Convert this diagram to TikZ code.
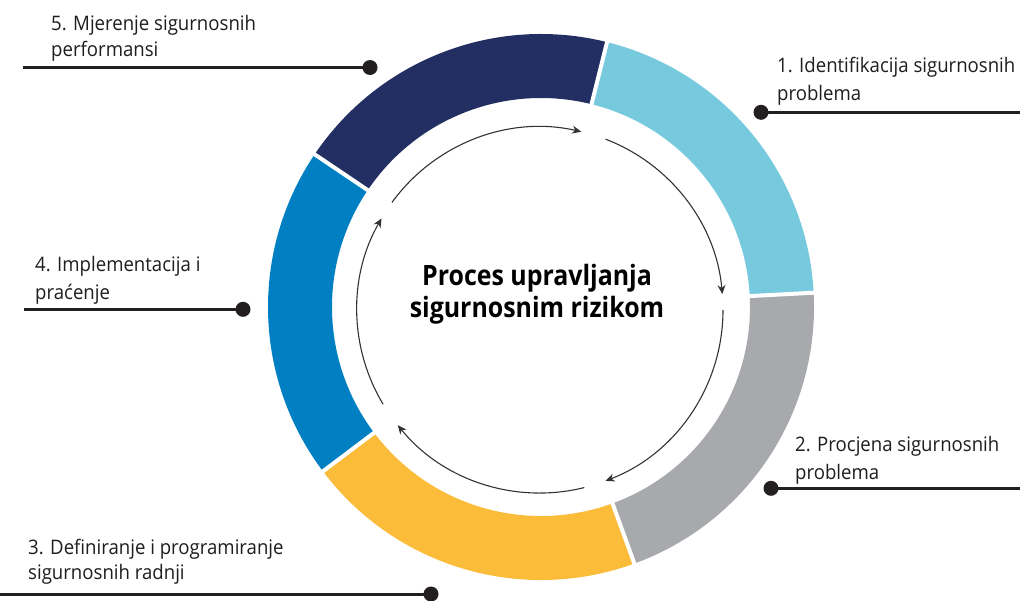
\documentclass[tikz,border=0pt]{standalone}
\usepackage{fontspec}
\setmainfont[FakeStretch=0.93]{Open Sans}
\newfontfamily\titlefont[FakeStretch=0.89]{Open Sans}
\usetikzlibrary{arrows.meta,calc}
\definecolor{cnavy}{RGB}{35,47,99}
\definecolor{clight}{RGB}{119,201,221}
\definecolor{cgray}{RGB}{168,169,173}
\definecolor{cyellow}{RGB}{251,188,58}
\definecolor{cblue}{RGB}{0,128,195}
\definecolor{cdark}{RGB}{35,31,32}
\definecolor{ctext}{RGB}{30,30,30}
\newcommand\ringseg[3]{\fill[#1] ($(c)+(#2:273)$) arc[start angle=#2,end angle=#3,radius=273] -- ($(c)+(#3:209)$) arc[start angle=#3,end angle=#2,radius=209] -- cycle;}
\newcommand\ringgap[1]{\draw[white,line width=4pt] ($(c)+(#1:205)$) -- ($(c)+(#1:278)$);}
\begin{document}
\begin{tikzpicture}[x=1pt,y=-1pt,
  lbl/.style={anchor=base west, inner sep=0pt, font=\fontsize{20}{24}\selectfont, text=ctext},
  ttl/.style={anchor=base, inner sep=0pt, font=\titlefont\bfseries\fontsize{28}{33}\selectfont, text=black},
  dotn/.style={circle, fill=cdark, minimum size=15pt, inner sep=0pt},
  lead/.style={draw=cdark, line width=3pt},
  cyc/.style={draw=black!80, line width=1.1pt, -{Stealth[length=9pt,width=8pt]}}]
\useasboundingbox (0,0) rectangle (1020,600);
\fill[white] (0,0) rectangle (1020,600);
\coordinate (c) at (541,307);
\coordinate (ac) at (540,310);
% ring segments (angles in flipped frame)
\ringseg{clight}{-76}{-3}
\ringseg{cgray}{-3}{70}
\ringseg{cyellow}{70}{143}
\ringseg{cblue}{143}{214}
\ringseg{cnavy}{214}{284}
\ringgap{-76}\ringgap{-3}\ringgap{70}\ringgap{143}\ringgap{214}
% cycle arrows
\draw[cyc] ($(ac)+(-144:183)$) arc[start angle=-144,end angle=-77,radius=183];
\draw[cyc] ($(ac)+(-69:183)$) arc[start angle=-69,end angle=-5,radius=183];
\draw[cyc] ($(ac)+(0:183)$) arc[start angle=0,end angle=69,radius=183];
\draw[cyc] ($(ac)+(76:183)$) arc[start angle=76,end angle=141,radius=183];
\draw[cyc] ($(ac)+(149:183)$) arc[start angle=149,end angle=210,radius=183];
% title
\node[ttl] (t1) at (537,285) {Proces upravljanja};
\node[ttl] (t2) at (537,317) {sigurnosnim rizikom};
% label 5
\node[lbl] (l5a) at (51,30) {5. Mjerenje sigurnosnih};
\node[lbl] (l5b) at (51,56) {performansi};
\node[dotn] (d5) at (370,67.5) {};
\coordinate (e5) at (23,67.5);
\draw[lead] (e5) -- (d5.center);
% label 1
\node[lbl] (l1a) at (777,72) {1. Identifikacija sigurnosnih};
\node[lbl] (l1b) at (777,100) {problema};
\node[dotn] (d1) at (761,112.3) {};
\coordinate (e1) at (1020,112.3);
\draw[lead] (d1.center) -- (e1);
% label 2
\node[lbl] (l2a) at (795,451) {2. Procjena sigurnosnih};
\node[lbl] (l2b) at (795,479) {problema};
\node[dotn] (d2) at (771,488.3) {};
\coordinate (e2) at (1020,488.3);
\draw[lead] (d2.center) -- (e2);
% label 4
\node[lbl] (l4a) at (35,271) {4. Implementacija i};
\node[lbl] (l4b) at (35,299) {praćenje};
\node[dotn] (d4) at (243,309.3) {};
\coordinate (e4) at (24,309.3);
\draw[lead] (e4) -- (d4.center);
% label 3
\node[lbl] (l3a) at (28,554) {3. Definiranje i programiranje};
\node[lbl] (l3b) at (28,579) {sigurnosnih radnji};
\node[dotn] (d3) at (431,594) {};
\coordinate (e3) at (0,594);
\draw[lead] (e3) -- (d3.center);
\end{tikzpicture}
\end{document}
